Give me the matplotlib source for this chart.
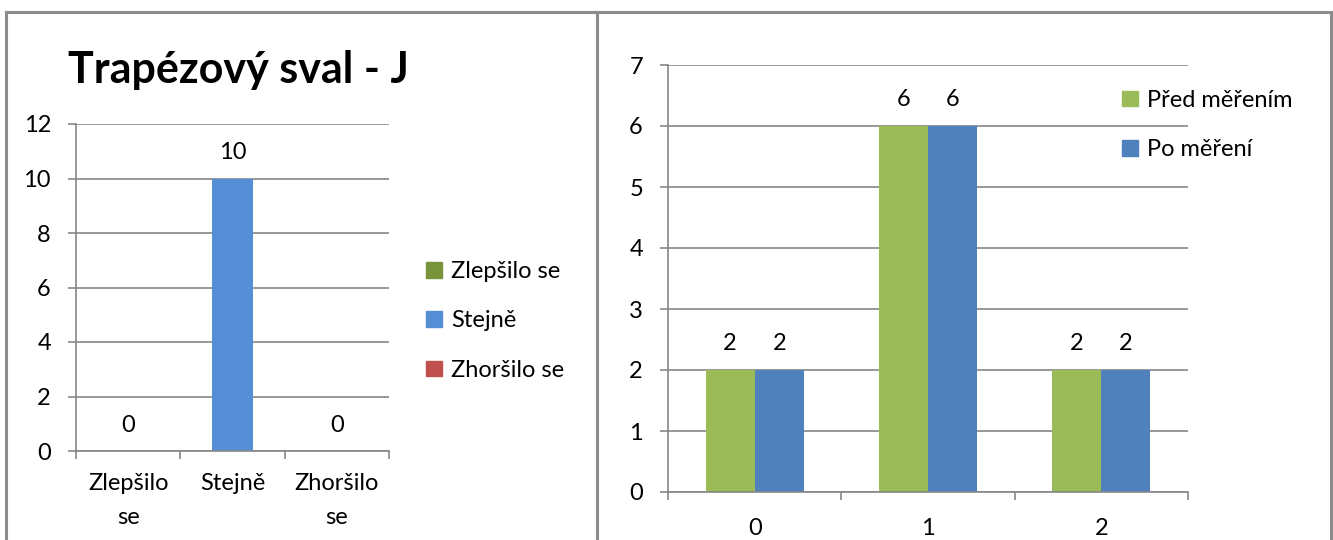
import matplotlib
matplotlib.use("Agg")
import matplotlib.pyplot as plt
import numpy as np
from matplotlib.lines import Line2D
from matplotlib.patches import Patch

plt.rcParams["font.family"] = ["Lato", "DejaVu Sans"]

# left chart: change of the trapezius muscle
change_cats = ["Zlepšilo\nse", "Stejně", "Zhoršilo\nse"]
change_names = ["Zlepšilo se", "Stejně", "Zhoršilo se"]
change_vals = [0, 10, 0]
change_colors = ["#77933C", "#558ED5", "#C0504D"]

# right chart: counts before / after measurement
score_cats = ["0", "1", "2"]
before_vals = [2, 6, 2]
after_vals = [2, 6, 2]
series_names = ["Před měřením", "Po měření"]
series_colors = ["#9BBB59", "#4F81BD"]

GRID = "#868686"
FS = 17

fig = plt.figure(figsize=(13.33, 5.4), dpi=100)
W, H = 1333, 540


def px(x0, y0, x1, y1):
    return [x0 / W, 1 - y1 / H, (x1 - x0) / W, (y1 - y0) / H]


def style_axes(ax, ymax, ystep, ncat, xpad):
    ax.set_xlim(-0.5, ncat - 0.5)
    ax.set_ylim(0, ymax)
    ax.set_yticks(np.arange(0, ymax + 0.01, ystep))
    ax.yaxis.grid(True, color=GRID, linewidth=1.2)
    ax.set_axisbelow(True)
    for s in ["top", "right"]:
        ax.spines[s].set_visible(False)
    for s in ["left", "bottom"]:
        ax.spines[s].set_color(GRID)
        ax.spines[s].set_linewidth(1.2)
    ax.set_xticks(np.arange(-0.5, ncat, 1.0))
    ax.set_xticklabels([])
    ax.tick_params(axis="both", which="major", color=GRID, width=1.2,
                   length=6, labelsize=FS, pad=12)
    ax.tick_params(axis="x", which="minor", length=0, labelsize=FS, pad=xpad)


def value_labels(ax, xs, vals, gap):
    # value centred a fixed pixel gap above each bar top
    for xi, v in zip(xs, vals):
        ax.annotate(str(v), (xi, v), xytext=(0, gap * 0.72),
                    textcoords="offset points", ha="center", va="center",
                    fontsize=FS)


# left panel
ax1 = fig.add_axes(px(76, 124, 389, 451))
x1 = np.arange(len(change_vals))
ax1.bar(x1, change_vals, width=0.39, color=change_colors)
style_axes(ax1, 12, 2, len(change_vals), 16)
ax1.set_xticks(x1, minor=True)
ax1.set_xticklabels(change_cats, minor=True, linespacing=1.75)
value_labels(ax1, x1, change_vals, 26)
fig.text(68 / W, 1 - 70 / H, "Trapézový sval - J", fontsize=31,
         fontweight="bold", va="center", ha="left")
handles1 = [Patch(color=c, label=n) for c, n in zip(change_colors, change_names)]
fig.legend(handles=handles1, loc="center left",
           bbox_to_anchor=(405 / W, 1 - 321 / H), frameon=False,
           fontsize=FS, handlelength=0.65, handleheight=0.65,
           handletextpad=0.4, labelspacing=1.2)

# right panel
ax2 = fig.add_axes(px(668, 65, 1188, 492))
x2 = np.arange(len(score_cats))
bw = 0.283
ax2.bar(x2 - bw / 2, before_vals, width=bw, color=series_colors[0])
ax2.bar(x2 + bw / 2, after_vals, width=bw, color=series_colors[1])
style_axes(ax2, 7, 1, len(score_cats), 19)
ax2.set_xticks(x2, minor=True)
ax2.set_xticklabels(score_cats, minor=True)
value_labels(ax2, x2 - bw / 2, before_vals, 27)
value_labels(ax2, x2 + bw / 2, after_vals, 27)
handles2 = [Patch(color=c, label=n) for c, n in zip(series_colors, series_names)]
fig.legend(handles=handles2, loc="center left",
           bbox_to_anchor=(1101 / W, 1 - 125 / H), frameon=False,
           fontsize=FS, handlelength=0.65, handleheight=0.65,
           handletextpad=0.4, labelspacing=1.2)

# panel borders
for xs, ys in [([6, 6], [12, 540]), ([6, 597], [12, 12]), ([597, 597], [12, 540]),
               ([594, 1331], [12, 12]), ([1331, 1331], [12, 540])]:
    fig.add_artist(Line2D([x / W for x in xs], [1 - y / H for y in ys],
                          color="#8c8c8c", linewidth=2.2))

fig.savefig("out.png", dpi=100)
